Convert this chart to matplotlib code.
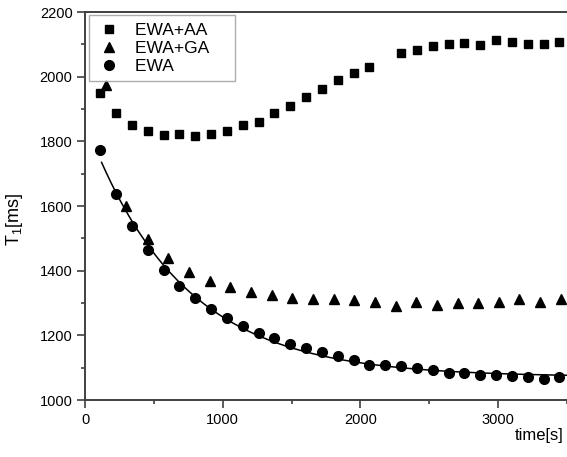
import matplotlib
matplotlib.use("Agg")
import matplotlib.pyplot as plt
import numpy as np

plt.rcParams['font.family'] = ['Liberation Sans', 'DejaVu Sans']

# EWA+AA (squares)
t_aa = [110, 225, 340, 455, 570, 685, 800, 915, 1030, 1145, 1260, 1375, 1490,
        1605, 1720, 1835, 1950, 2065, 2295, 2410, 2525, 2640, 2755, 2870, 2985,
        3100, 3215, 3330, 3445]
T1_aa = [1949, 1887, 1850, 1831, 1819, 1822, 1816, 1822, 1831, 1850, 1859, 1887, 1909,
         1938, 1961, 1989, 2012, 2029, 2072, 2082, 2094, 2100, 2104, 2098, 2113,
         2107, 2100, 2102, 2107]

# EWA+GA (triangles)
t_ga = [150, 300, 455, 605, 755, 905, 1055, 1205, 1355, 1505, 1655, 1805, 1955,
        2105, 2255, 2405, 2555, 2705, 2855, 3005, 3155, 3305, 3455]
T1_ga = [1975, 1600, 1497, 1438, 1395, 1369, 1351, 1334, 1324, 1317, 1312, 1311, 1310,
         1303, 1291, 1304, 1294, 1300, 1300, 1304, 1311, 1303, 1311]

# EWA (circles)
t_ewa = [110, 225, 340, 455, 570, 685, 800, 915, 1030, 1145, 1260, 1375, 1490,
         1605, 1720, 1835, 1950, 2065, 2180, 2295, 2410, 2525, 2640, 2755, 2870,
         2985, 3100, 3215, 3330, 3445]
T1_ewa = [1773, 1636, 1538, 1464, 1402, 1353, 1315, 1280, 1254, 1228, 1208, 1192, 1174,
          1161, 1149, 1137, 1125, 1108, 1108, 1104, 1098, 1092, 1085, 1082, 1078,
          1077, 1074, 1070, 1066, 1070]

# exponential decay fit to the EWA points: y = y0 + A*exp(-t/tau)
x = np.array(t_ewa, float)
y = np.array(T1_ewa, float)
best = None
for tau in np.linspace(200, 2000, 1801):
    M = np.column_stack([np.ones_like(x), np.exp(-x / tau)])
    coef, *_ = np.linalg.lstsq(M, y, rcond=None)
    err = np.sum((M @ coef - y) ** 2)
    if best is None or err < best[0]:
        best = (err, tau, coef)
_, tau, (y0, A) = best
tfit = np.linspace(120, 3500, 300)
yfit = y0 + A * np.exp(-tfit / tau)

fig = plt.figure(figsize=(5.67, 4.57), dpi=100)
ax = fig.add_axes([0.150, 0.1247, 0.850, 0.849])

ax.plot(tfit, yfit, color='black', lw=1.1)
ax.plot(t_aa, T1_aa, 's', color='black', ms=6, label='EWA+AA')
ax.plot(t_ga, T1_ga, '^', color='black', ms=7.5, label='EWA+GA')
ax.plot(t_ewa, T1_ewa, 'o', color='black', ms=7, label='EWA')

ax.set_xlim(0, 3500)
ax.set_ylim(1000, 2200)
ax.set_xticks([0, 1000, 2000, 3000])
ax.set_xticks(np.arange(500, 3600, 1000), minor=True)
ax.set_yticks(np.arange(1000, 2201, 200))
ax.set_yticks(np.arange(1100, 2200, 200), minor=True)
ax.tick_params(which='major', direction='out', length=6, width=1.2, color='#404040',
               labelsize=10.5, pad=3)
ax.tick_params(which='minor', direction='out', length=3, width=1.2, color='#404040')

for s in ['left', 'bottom', 'top']:
    ax.spines[s].set_color('#404040')
    ax.spines[s].set_linewidth(1.4)
ax.spines['right'].set_visible(False)

ax.set_ylabel('T$_\\mathregular{1}$[ms]', fontsize=13)
ax.yaxis.set_label_coords(-0.124, 0.466)
fig.text(0.993, 0.048, 'time[s]', fontsize=12, ha='right', va='center')

leg = ax.legend(loc='upper left', fontsize=12.5, frameon=True, fancybox=False,
                edgecolor='#999999', borderpad=0.4, handletextpad=0.7,
                labelspacing=0.18, borderaxespad=0.2, handlelength=1.6)
leg.get_frame().set_linewidth(1.0)
for txt in leg.get_texts():
    txt.set_text(txt.get_text() + '    ')

fig.savefig('out.png', dpi=100)
